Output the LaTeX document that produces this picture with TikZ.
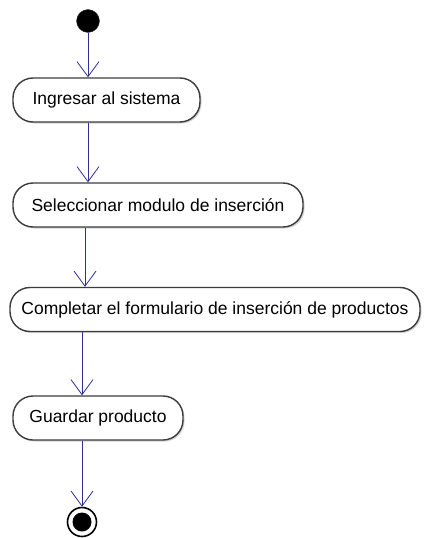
\documentclass[tikz,border=0pt]{standalone}
\usepackage{fontspec}
\setmainfont{Liberation Sans}
\usepackage{tikz}
\usetikzlibrary{arrows.meta,shadows}
\definecolor{flowblue}{RGB}{48,48,150}
\definecolor{edgegray}{RGB}{60,60,60}
\tikzset{
  actbox/.style={draw=edgegray, line width=1.4pt, fill=white, rounded corners=20pt,
    minimum height=44pt, inner sep=0pt, font=\fontsize{17.5}{20}\selectfont,
    drop shadow={shadow xshift=1.5pt, shadow yshift=-1.5pt, fill=gray!70}},
  flow/.style={draw=flowblue, line width=0.8pt,
    -{Straight Barb[length=15pt,width=22pt,line width=0.8pt]}},
}

\begin{document}
\begin{tikzpicture}[x=1pt,y=-1pt]

  \useasboundingbox (0,0) rectangle (425,538);

  %% start and end
  \node[circle, fill=black, draw=edgegray, minimum size=23pt, inner sep=0pt] (start) at (88,21) {};
  \node[circle, draw=black, line width=1.6pt, fill=white, minimum size=29pt, inner sep=0pt] (stop) at (82,522) {};
  \fill[black] (stop) circle (9.5pt);

  %% activities
  \node[actbox, minimum width=187pt] (ingresar) at (106.5,100) {Ingresar al sistema};
  \node[actbox, minimum width=290pt] (seleccionar) at (158,205) {Seleccionar modulo de inserción};
  \node[actbox, minimum width=410pt] (completar) at (215,309.5) {Completar el formulario de inserción de productos};
  \node[actbox, minimum width=170pt] (guardar) at (98,418) {Guardar producto};

  \draw[flow] (start) -- (start |- ingresar.north);
  \draw[flow] (ingresar.south -| start) -- (seleccionar.north -| start);
  \draw[flow] ([xshift=3pt]seleccionar.south -| stop) -- ([xshift=3pt]completar.north -| stop);
  \draw[flow] (completar.south -| stop) -- (guardar.north -| stop);
  \draw[flow] (guardar.south -| stop) -- (stop);

\end{tikzpicture}
\end{document}
